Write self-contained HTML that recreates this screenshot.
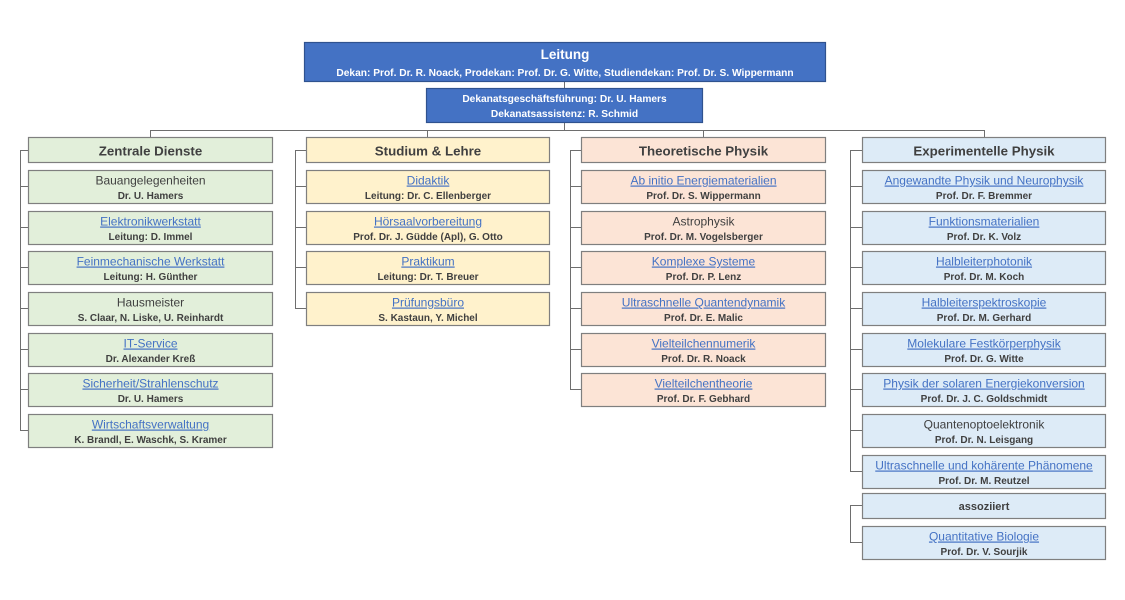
<!DOCTYPE html>
<html><head><meta charset="utf-8">
<style>
html,body{margin:0;padding:0;background:#fff;}
svg{display:block;}
text{font-family:"Liberation Sans",Arial,sans-serif;}
.t1{font-size:12px;fill:#404040;}
.lk{font-size:12px;fill:#4472C4;text-decoration:underline;}
.t2{font-size:10px;font-weight:bold;fill:#404040;}
.hd{font-size:13.3px;font-weight:bold;fill:#404040;}
.ln{stroke:#6e6e6e;stroke-width:1;fill:none;}
.g{fill:#E2EFDA;stroke:#7f7f7f;stroke-width:1.2;}
.y{fill:#FFF2CC;stroke:#7f7f7f;stroke-width:1.2;}
.s{fill:#FCE4D6;stroke:#7f7f7f;stroke-width:1.2;}
.b{fill:#DDEBF7;stroke:#7f7f7f;stroke-width:1.2;}
.w{fill:#fff;font-weight:bold;}
</style></head>
<body>
<svg width="1125" height="600" viewBox="0 0 1125 600" xmlns="http://www.w3.org/2000/svg">
<!-- top connectors -->
<path class="ln" d="M564.5 81V88 M564.5 123V130 M150.5 130.5H984.5 M150.5 130V137 M427.5 130V137 M703.5 130V137 M984.5 130V137"/>
<!-- Leitung -->
<rect x="304.5" y="42.5" width="521" height="39" fill="#4472C4" stroke="#2F528F" stroke-width="1.2"/>
<text x="565" y="59" text-anchor="middle" class="w" font-size="13.5">Leitung</text>
<text x="565" y="76" text-anchor="middle" class="w" font-size="10.2">Dekan: Prof. Dr. R. Noack, Prodekan: Prof. Dr. G. Witte, Studiendekan: Prof. Dr. S. Wippermann</text>
<rect x="426.5" y="88.5" width="276" height="34" fill="#4472C4" stroke="#2F528F" stroke-width="1.2"/>
<text x="564.5" y="102" text-anchor="middle" class="w" font-size="10.2">Dekanatsgeschäftsführung: Dr. U. Hamers</text>
<text x="564.5" y="117" text-anchor="middle" class="w" font-size="10.2">Dekanatsassistenz: R. Schmid</text>

<!-- Column 1 -->
<path class="ln" d="M20.5 150V430.5 M20 150.5H28 M20 186.5H28 M20 227.5H28 M20 267.5H28 M20 308.5H28 M20 349.5H28 M20 389.5H28 M20 430.5H28"/>
<rect class="g" x="28.5" y="137.5" width="244" height="25"/>
<text class="hd" x="150.5" y="155.5" text-anchor="middle">Zentrale Dienste</text>
<rect class="g" x="28.5" y="170.5" width="244" height="33"/>
<text class="t1" x="150.5" y="184.5" text-anchor="middle">Bauangelegenheiten</text>
<text class="t2" x="150.5" y="199" text-anchor="middle">Dr. U. Hamers</text>
<rect class="g" x="28.5" y="211.5" width="244" height="33"/>
<text class="lk" x="150.5" y="225.5" text-anchor="middle">Elektronikwerkstatt</text>
<text class="t2" x="150.5" y="240" text-anchor="middle">Leitung: D. Immel</text>
<rect class="g" x="28.5" y="251.5" width="244" height="33"/>
<text class="lk" x="150.5" y="265.5" text-anchor="middle">Feinmechanische Werkstatt</text>
<text class="t2" x="150.5" y="280" text-anchor="middle">Leitung: H. Günther</text>
<rect class="g" x="28.5" y="292.5" width="244" height="33"/>
<text class="t1" x="150.5" y="306.5" text-anchor="middle">Hausmeister</text>
<text class="t2" x="150.5" y="321" text-anchor="middle">S. Claar, N. Liske, U. Reinhardt</text>
<rect class="g" x="28.5" y="333.5" width="244" height="33"/>
<text class="lk" x="150.5" y="347.5" text-anchor="middle">IT-Service</text>
<text class="t2" x="150.5" y="362" text-anchor="middle">Dr. Alexander Kreß</text>
<rect class="g" x="28.5" y="373.5" width="244" height="33"/>
<text class="lk" x="150.5" y="387.5" text-anchor="middle">Sicherheit/Strahlenschutz</text>
<text class="t2" x="150.5" y="402" text-anchor="middle">Dr. U. Hamers</text>
<rect class="g" x="28.5" y="414.5" width="244" height="33"/>
<text class="lk" x="150.5" y="428.5" text-anchor="middle">Wirtschaftsverwaltung</text>
<text class="t2" x="150.5" y="443" text-anchor="middle">K. Brandl, E. Waschk, S. Kramer</text>

<!-- Column 2 -->
<path class="ln" d="M295.5 150V308.5 M295 150.5H306 M295 186.5H306 M295 227.5H306 M295 267.5H306 M295 308.5H306"/>
<rect class="y" x="306.5" y="137.5" width="243" height="25"/>
<text class="hd" x="428" y="155.5" text-anchor="middle">Studium &amp; Lehre</text>
<rect class="y" x="306.5" y="170.5" width="243" height="33"/>
<text class="lk" x="428" y="184.5" text-anchor="middle">Didaktik</text>
<text class="t2" x="428" y="199" text-anchor="middle">Leitung: Dr. C. Ellenberger</text>
<rect class="y" x="306.5" y="211.5" width="243" height="33"/>
<text class="lk" x="428" y="225.5" text-anchor="middle">Hörsaalvorbereitung</text>
<text class="t2" x="428" y="240" text-anchor="middle">Prof. Dr. J. Güdde (Apl), G. Otto</text>
<rect class="y" x="306.5" y="251.5" width="243" height="33"/>
<text class="lk" x="428" y="265.5" text-anchor="middle">Praktikum</text>
<text class="t2" x="428" y="280" text-anchor="middle">Leitung: Dr. T. Breuer</text>
<rect class="y" x="306.5" y="292.5" width="243" height="33"/>
<text class="lk" x="428" y="306.5" text-anchor="middle">Prüfungsbüro</text>
<text class="t2" x="428" y="321" text-anchor="middle">S. Kastaun, Y. Michel</text>

<!-- Column 3 -->
<path class="ln" d="M570.5 150V389.5 M570 150.5H581 M570 186.5H581 M570 227.5H581 M570 267.5H581 M570 308.5H581 M570 349.5H581 M570 389.5H581"/>
<rect class="s" x="581.5" y="137.5" width="244" height="25"/>
<text class="hd" x="703.5" y="155.5" text-anchor="middle">Theoretische Physik</text>
<rect class="s" x="581.5" y="170.5" width="244" height="33"/>
<text class="lk" x="703.5" y="184.5" text-anchor="middle">Ab initio Energiematerialien</text>
<text class="t2" x="703.5" y="199" text-anchor="middle">Prof. Dr. S. Wippermann</text>
<rect class="s" x="581.5" y="211.5" width="244" height="33"/>
<text class="t1" x="703.5" y="225.5" text-anchor="middle">Astrophysik</text>
<text class="t2" x="703.5" y="240" text-anchor="middle">Prof. Dr. M. Vogelsberger</text>
<rect class="s" x="581.5" y="251.5" width="244" height="33"/>
<text class="lk" x="703.5" y="265.5" text-anchor="middle">Komplexe Systeme</text>
<text class="t2" x="703.5" y="280" text-anchor="middle">Prof. Dr. P. Lenz</text>
<rect class="s" x="581.5" y="292.5" width="244" height="33"/>
<text class="lk" x="703.5" y="306.5" text-anchor="middle">Ultraschnelle Quantendynamik</text>
<text class="t2" x="703.5" y="321" text-anchor="middle">Prof. Dr. E. Malic</text>
<rect class="s" x="581.5" y="333.5" width="244" height="33"/>
<text class="lk" x="703.5" y="347.5" text-anchor="middle">Vielteilchennumerik</text>
<text class="t2" x="703.5" y="362" text-anchor="middle">Prof. Dr. R. Noack</text>
<rect class="s" x="581.5" y="373.5" width="244" height="33"/>
<text class="lk" x="703.5" y="387.5" text-anchor="middle">Vielteilchentheorie</text>
<text class="t2" x="703.5" y="402" text-anchor="middle">Prof. Dr. F. Gebhard</text>

<!-- Column 4 -->
<path class="ln" d="M850.5 150V471.5 M850 150.5H862 M850 186.5H862 M850 227.5H862 M850 267.5H862 M850 308.5H862 M850 349.5H862 M850 389.5H862 M850 430.5H862 M850 471.5H862"/>
<rect class="b" x="862.5" y="137.5" width="243" height="25"/>
<text class="hd" x="984" y="155.5" text-anchor="middle">Experimentelle Physik</text>
<rect class="b" x="862.5" y="170.5" width="243" height="33"/>
<text class="lk" x="984" y="184.5" text-anchor="middle">Angewandte Physik und Neurophysik</text>
<text class="t2" x="984" y="199" text-anchor="middle">Prof. Dr. F. Bremmer</text>
<rect class="b" x="862.5" y="211.5" width="243" height="33"/>
<text class="lk" x="984" y="225.5" text-anchor="middle">Funktionsmaterialien </text>
<text class="t2" x="984" y="240" text-anchor="middle">Prof. Dr. K. Volz</text>
<rect class="b" x="862.5" y="251.5" width="243" height="33"/>
<text class="lk" x="984" y="265.5" text-anchor="middle">Halbleiterphotonik</text>
<text class="t2" x="984" y="280" text-anchor="middle">Prof. Dr. M. Koch</text>
<rect class="b" x="862.5" y="292.5" width="243" height="33"/>
<text class="lk" x="984" y="306.5" text-anchor="middle">Halbleiterspektroskopie</text>
<text class="t2" x="984" y="321" text-anchor="middle">Prof. Dr. M. Gerhard</text>
<rect class="b" x="862.5" y="333.5" width="243" height="33"/>
<text class="lk" x="984" y="347.5" text-anchor="middle">Molekulare Festkörperphysik</text>
<text class="t2" x="984" y="362" text-anchor="middle">Prof. Dr. G. Witte</text>
<rect class="b" x="862.5" y="373.5" width="243" height="33"/>
<text class="lk" x="984" y="387.5" text-anchor="middle">Physik der solaren Energiekonversion</text>
<text class="t2" x="984" y="402" text-anchor="middle">Prof. Dr. J. C. Goldschmidt</text>
<rect class="b" x="862.5" y="414.5" width="243" height="33"/>
<text class="t1" x="984" y="428.5" text-anchor="middle">Quantenoptoelektronik</text>
<text class="t2" x="984" y="443" text-anchor="middle">Prof. Dr. N. Leisgang</text>
<rect class="b" x="862.5" y="455.5" width="243" height="33"/>
<text class="lk" x="984" y="469.5" text-anchor="middle">Ultraschnelle und kohärente Phänomene </text>
<text class="t2" x="984" y="484" text-anchor="middle">Prof. Dr. M. Reutzel</text>

<!-- assoziiert -->
<path class="ln" d="M850.5 505.5V542.5 M850 505.5H862 M850 542.5H862"/>
<rect class="b" x="862.5" y="493.5" width="243" height="25"/>
<text x="984" y="510" text-anchor="middle" font-size="11" font-weight="bold" fill="#404040">assoziiert</text>
<rect class="b" x="862.5" y="526.5" width="243" height="33"/>
<text class="lk" x="984" y="540.5" text-anchor="middle">Quantitative Biologie</text>
<text class="t2" x="984" y="555" text-anchor="middle">Prof. Dr. V. Sourjik</text>
</svg>
</body></html>
